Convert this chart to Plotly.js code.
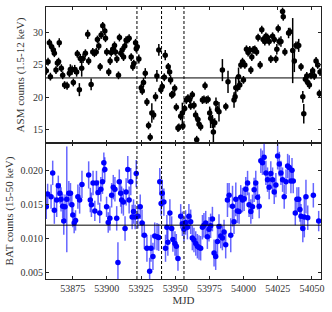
<!DOCTYPE html>
<html>
<head>
<meta charset="utf-8">
<script src="https://cdn.plot.ly/plotly-3.0.1.min.js"></script>
<style>html,body{margin:0;padding:0;background:#fff}#chart{width:332px;height:312px}</style>
</head>
<body>
<div id="chart"></div>
<script>
// ASM (1.5-12 keV) light curve
const asmMJD = [53855.7,53857.0,53858.0,53858.7,53859.6,53860.9,53861.6,53862.8,53863.8,53864.7,53865.2,53866.7,53867.7,53869.1,53870.9,53872.6,53873.3,53874.6,53875.5,53876.5,53877.9,53878.4,53879.9,53880.6,53881.6,53882.6,53884.3,53886.0,53886.7,53888.5,53889.7,53890.9,53892.2,53893.1,53894.1,53895.1,53895.8,53897.0,53898.5,53899.0,53899.9,53901.4,53902.4,53903.2,53904.3,53905.6,53906.3,53907.3,53908.5,53909.2,53910.2,53911.2,53912.2,53913.1,53914.1,53915.3,53916.3,53917.8,53919.0,53919.7,53921.0,53921.5,53922.2,53923.4,53925.1,53925.9,53926.8,53928.1,53929.3,53930.5,53931.7,53932.9,53934.2,53935.6,53936.6,53938.0,53939.5,53940.5,53942.0,53942.7,53944.9,53945.9,53946.6,53947.4,53948.3,53949.6,53950.8,53952.0,53952.7,53954.0,53955.2,53955.6,53956.9,53958.1,53959.3,53960.6,53961.3,53962.5,53963.7,53964.9,53965.7,53966.6,53967.4,53968.6,53969.9,53971.0,53971.8,53972.8,53974.0,53975.2,53975.9,53977.2,53977.9,53978.9,53979.8,53980.9,53982.0,53984.5,53987.0,53988.6,53993.0,53993.8,53994.3,53995.5,53996.3,53997.2,53998.0,53999.2,53999.9,54000.9,54002.1,54003.3,54004.5,54005.3,54006.0,54007.0,54008.2,54009.5,54010.6,54012.1,54013.3,54014.3,54015.5,54016.3,54017.5,54018.7,54019.9,54021.2,54022.4,54023.6,54024.3,54025.3,54026.0,54027.3,54028.5,54029.0,54030.2,54032.9,54033.9,54035.9,54037.1,54038.3,54039.6,54040.3,54042.0,54043.3,54044.0,54045.2,54046.2,54046.9,54048.1,54049.3,54050.5,54051.7,54053.0,54054.2,54055.4,54055.9];
const asmRate = [24.1,25.5,28.4,23.2,27.8,27.3,26.8,24.2,25.3,25.5,28.4,24.5,23.4,21.9,21.8,23.7,24.3,24.2,22.3,24.3,23.9,26.7,21.2,26.0,24.5,26.0,26.8,29.7,25.6,22.0,27.0,26.8,27.0,28.9,27.9,24.7,29.6,31.0,30.2,29.1,27.0,23.9,25.6,26.9,27.4,28.0,27.0,25.9,23.4,29.2,26.8,27.3,26.2,27.9,28.8,28.9,29.1,26.2,24.7,25.2,28.4,27.5,27.8,25.9,21.5,21.0,22.3,23.7,19.3,15.7,13.9,17.6,17.3,20.1,23.3,27.3,21.2,21.7,23.1,26.5,24.7,23.9,22.7,20.4,20.5,21.4,18.5,15.3,15.4,17.1,17.6,15.6,18.3,19.6,19.9,19.7,18.7,20.4,18.8,17.3,13.5,16.6,15.9,15.5,19.6,19.7,21.8,19.6,19.7,17.6,16.8,16.3,14.7,16.1,19.1,18.1,17.8,24.2,18.6,22.4,19.6,20.1,21.5,21.5,23.2,21.9,25.0,25.5,22.7,25.0,27.4,26.9,27.3,24.2,26.2,27.3,27.4,27.0,29.2,25.0,30.4,28.9,28.6,29.4,29.2,28.6,25.9,29.4,28.9,25.9,27.4,30.6,28.6,28.6,33.2,32.4,27.0,29.9,30.1,27.2,25.6,28.0,28.0,28.0,24.7,20.1,17.5,22.8,23.3,22.3,21.9,23.4,24.1,23.3,25.6,25.0,20.6,23.9];
const asmErr = [0.6,0.6,0.6,0.6,0.6,0.6,0.6,0.6,0.6,0.6,0.7,0.6,0.6,0.6,0.6,0.6,0.8,0.7,0.6,0.7,0.7,0.6,1.0,0.7,1.3,0.7,0.6,0.7,0.6,0.9,0.6,0.6,0.6,0.6,0.6,0.6,0.6,0.6,0.6,0.6,0.6,0.6,0.6,0.6,0.6,0.6,0.6,0.6,0.6,0.6,0.6,0.6,0.6,0.6,0.6,0.6,0.6,0.6,0.6,0.6,0.6,0.6,0.6,0.7,0.6,0.6,0.7,0.8,0.6,0.6,0.6,1.5,0.7,0.7,0.9,0.9,0.6,0.6,0.6,0.8,0.6,0.6,0.7,0.6,0.6,0.6,0.6,0.6,0.6,0.6,1.6,0.6,0.6,0.6,0.6,0.6,0.6,0.6,0.6,0.7,0.6,0.6,0.6,0.6,0.6,0.6,0.6,0.6,0.6,1.0,1.5,1.0,1.8,0.7,0.9,0.6,1.5,1.7,0.6,1.7,1.2,0.8,1.7,0.6,1.4,0.7,0.6,0.6,0.6,0.6,0.6,0.6,0.6,0.6,0.6,0.6,0.6,0.6,0.6,0.6,0.6,0.6,0.6,0.6,0.6,0.6,0.6,0.6,0.6,0.6,0.8,0.6,0.6,0.8,0.6,0.6,0.6,0.8,0.6,5.0,1.7,0.6,0.6,1.0,0.6,0.9,1.5,0.6,0.6,0.6,0.6,0.6,0.6,0.6,0.6,0.6,0.6,0.6];

// BAT (15-50 keV) light curve
const batMJD = [53855.7,53856.7,53859.2,53860.4,53861.6,53863.3,53864.5,53865.7,53866.5,53867.7,53868.5,53869.4,53870.7,53872.2,53873.4,53874.4,53875.1,53876.1,53877.1,53878.8,53880.1,53881.8,53886.7,53887.9,53888.7,53889.9,53891.2,53892.4,53893.6,53894.8,53895.6,53896.8,53897.8,53898.5,53899.8,53901.0,53902.2,53903.5,53904.7,53905.9,53907.2,53908.1,53909.1,53910.1,53910.8,53912.1,53913.3,53914.1,53915.3,53916.3,53917.5,53918.5,53919.5,53920.7,53921.5,53922.7,53924.4,53925.7,53927.4,53929.3,53931.3,53932.3,53933.7,53935.0,53936.7,53937.9,53938.7,53939.7,53940.5,53941.7,53942.9,53943.9,53944.6,53946.1,53947.4,53948.3,53949.8,53950.8,53952.0,53954.0,53955.2,53956.4,53957.6,53958.9,53960.0,53961.3,53962.5,53963.7,53965.0,53966.2,53967.4,53968.6,53969.9,53971.0,53972.3,53973.5,53974.7,53975.9,53977.2,53978.4,53979.6,53980.9,53982.0,53983.3,53984.5,53985.7,53986.9,53988.2,53989.4,53990.6,53991.9,53993.0,53994.3,53995.5,53996.7,53997.9,53999.2,54000.4,54001.6,54002.9,54004.0,54005.3,54006.5,54007.7,54008.9,54010.2,54011.4,54012.6,54013.8,54015.0,54016.3,54017.5,54018.7,54019.9,54021.2,54022.4,54023.6,54024.9,54026.1,54027.3,54028.5,54029.7,54031.0,54032.2,54033.4,54034.6,54035.4,54036.3,54037.8,54039.0,54040.3,54041.2,54042.0,54043.3,54044.4,54045.6,54046.9,54051.0,54054.9];
const batRate = [0.0147,0.0166,0.0162,0.0197,0.0142,0.0157,0.0178,0.0167,0.0158,0.0148,0.0126,0.0147,0.0158,0.0167,0.0167,0.0150,0.0135,0.0123,0.0127,0.0162,0.0157,0.0180,0.0194,0.0157,0.0150,0.0182,0.0141,0.0182,0.0168,0.0138,0.0173,0.0184,0.0212,0.0202,0.0147,0.0124,0.0130,0.0164,0.0176,0.0173,0.0130,0.0065,0.0184,0.0167,0.0157,0.0154,0.0115,0.0169,0.0202,0.0157,0.0184,0.0132,0.0140,0.0132,0.0196,0.0133,0.0147,0.0123,0.0105,0.0086,0.0052,0.0086,0.0074,0.0104,0.0103,0.0102,0.0184,0.0152,0.0167,0.0154,0.0086,0.0117,0.0095,0.0138,0.0115,0.0099,0.0093,0.0089,0.0071,0.0133,0.0122,0.0114,0.0124,0.0117,0.0133,0.0125,0.0101,0.0098,0.0093,0.0089,0.0087,0.0086,0.0117,0.0120,0.0123,0.0103,0.0114,0.0119,0.0129,0.0079,0.0074,0.0096,0.0118,0.0104,0.0101,0.0110,0.0091,0.0157,0.0164,0.0105,0.0148,0.0125,0.0158,0.0141,0.0140,0.0161,0.0157,0.0159,0.0173,0.0182,0.0150,0.0140,0.0147,0.0172,0.0182,0.0161,0.0148,0.0215,0.0212,0.0220,0.0197,0.0187,0.0176,0.0196,0.0187,0.0169,0.0179,0.0222,0.0210,0.0197,0.0187,0.0162,0.0184,0.0207,0.0205,0.0185,0.0201,0.0185,0.0138,0.0158,0.0158,0.0143,0.0133,0.0115,0.0132,0.0162,0.0131,0.0164,0.0126];
const batErr = [0.0018,0.0015,0.0018,0.0018,0.0020,0.0025,0.0015,0.0015,0.0018,0.0018,0.0020,0.0018,0.0078,0.0018,0.0015,0.0015,0.0018,0.0015,0.0015,0.0018,0.0020,0.0020,0.0020,0.0018,0.0018,0.0018,0.0015,0.0018,0.0018,0.0015,0.0018,0.0018,0.0015,0.0018,0.0015,0.0015,0.0018,0.0018,0.0018,0.0018,0.0018,0.0030,0.0018,0.0020,0.0020,0.0020,0.0018,0.0020,0.0020,0.0020,0.0020,0.0018,0.0018,0.0018,0.0020,0.0018,0.0018,0.0020,0.0020,0.0020,0.0020,0.0020,0.0020,0.0020,0.0020,0.0020,0.0020,0.0018,0.0020,0.0020,0.0020,0.0018,0.0020,0.0020,0.0018,0.0018,0.0018,0.0018,0.0018,0.0018,0.0018,0.0018,0.0018,0.0018,0.0018,0.0018,0.0018,0.0018,0.0018,0.0018,0.0018,0.0018,0.0018,0.0018,0.0018,0.0018,0.0018,0.0018,0.0018,0.0020,0.0020,0.0020,0.0018,0.0018,0.0018,0.0018,0.0020,0.0025,0.0018,0.0025,0.0030,0.0018,0.0025,0.0018,0.0018,0.0018,0.0018,0.0018,0.0018,0.0018,0.0018,0.0018,0.0018,0.0018,0.0018,0.0018,0.0018,0.0018,0.0018,0.0020,0.0018,0.0018,0.0018,0.0018,0.0018,0.0018,0.0018,0.0020,0.0018,0.0018,0.0018,0.0018,0.0018,0.0018,0.0018,0.0018,0.0018,0.0018,0.0018,0.0018,0.0018,0.0018,0.0018,0.0020,0.0030,0.0025,0.0018,0.0018,0.0015];

// reference levels and marked epochs
const asmLevel = 23.0;
const batLevel = 0.012;
const markMJD = [53922.0, 53940.0, 53956.4];
const mjdTicks = [53875, 53900, 53925, 53950, 53975, 54000, 54025, 54050];

const font = {family: '"Liberation Serif", "DejaVu Serif", serif', size: 10, color: '#333'};

const traces = [
  {x: asmMJD, y: asmRate, type: 'scatter', mode: 'markers', xaxis: 'x', yaxis: 'y',
   marker: {color: '#000', size: 5.5},
   error_y: {type: 'data', array: asmErr, visible: true, color: '#000', thickness: 1.5, width: 0}},
  {x: batMJD, y: batRate, type: 'scatter', mode: 'markers', xaxis: 'x2', yaxis: 'y2',
   marker: {color: '#0000ff', size: 5.5},
   error_y: {type: 'data', array: batErr, visible: true, color: 'rgba(0,0,255,0.6)', thickness: 1.5, width: 0}}
];

const shapes = [
  {type: 'line', xref: 'x domain', yref: 'y', x0: 0, x1: 1, y0: asmLevel, y1: asmLevel, line: {color: '#000', width: 1}},
  {type: 'line', xref: 'x2 domain', yref: 'y2', x0: 0, x1: 1, y0: batLevel, y1: batLevel, line: {color: '#000', width: 1}}
];
markMJD.forEach(m => shapes.push({type: 'line', xref: 'x2', yref: 'paper', x0: m, x1: m, y0: 0, y1: 1,
  line: {color: '#000', width: 1, dash: '3px,2px'}}));

const xr = [53855.5, 54056.6];
const axCommon = {showline: true, mirror: 'ticks', linecolor: '#222', linewidth: 1, ticks: 'inside',
  ticklen: 3, tickcolor: '#222', showgrid: false, zeroline: false, tickfont: font};

const layout = {
  width: 332, height: 312,
  margin: {l: 46, r: 11, t: 7, b: 33},
  paper_bgcolor: '#fff', plot_bgcolor: '#fff',
  showlegend: false, font: font,
  xaxis: Object.assign({}, axCommon, {range: xr, anchor: 'y', showticklabels: false, tickvals: mjdTicks}),
  yaxis: Object.assign({}, axCommon, {domain: [0.5, 1], range: [13.0, 33.9], anchor: 'x', tickvals: [15,20,25,30],
    title: {text: 'ASM counts (1.5-12 keV)', font: {family: font.family, size: 11, color: '#333'}, standoff: 6}}),
  xaxis2: Object.assign({}, axCommon, {range: xr, anchor: 'y2', tickvals: mjdTicks, ticktext: mjdTicks.map(String),
    title: {text: 'MJD', font: {family: font.family, size: 11, color: '#333'}, standoff: 2}}),
  yaxis2: Object.assign({}, axCommon, {domain: [0, 0.5], range: [0.00407, 0.0241], anchor: 'x2',
    tickvals: [0.005,0.010,0.015,0.020], ticktext: ['0.005','0.010','0.015','0.020'],
    title: {text: 'BAT counts (15-50 keV)', font: {family: font.family, size: 11, color: '#333'}, standoff: 4}}),
  shapes: shapes
};

Plotly.newPlot('chart', traces, layout, {staticPlot: true, displayModeBar: false});
</script>
</body>
</html>
